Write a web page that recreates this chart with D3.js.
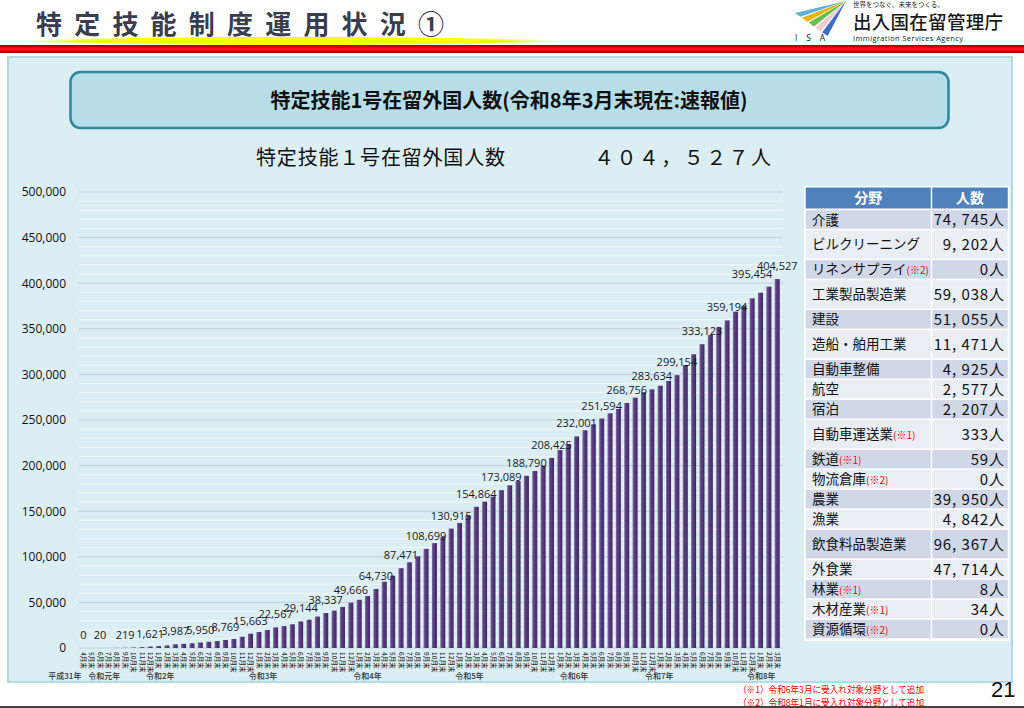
<!DOCTYPE html>
<html><head><meta charset="utf-8">
<script src="https://cdn.jsdelivr.net/npm/d3@7"></script>
<style>body{margin:0;background:#fff;}svg{display:block;}</style>
</head><body>
<svg id="c" width="1024" height="708"></svg>
<script>
// ---------------- DATA ----------------
const pageTitle = "特定技能制度運用状況①";
const boxTitle = "特定技能1号在留外国人数(令和8年3月末現在:速報値)";
const subTitle = "特定技能１号在留外国人数";
const totalText = "４０４，５２７人";

const months = [
  "4月末","5月末","6月末","7月末","8月末","9月末","10月末","11月末","12月末",
  "1月末","2月末","3月末","4月末","5月末","6月末","7月末","8月末","9月末","10月末","11月末","12月末",
  "1月末","2月末","3月末","4月末","5月末","6月末","7月末","8月末","9月末","10月末","11月末","12月末",
  "1月末","2月末","3月末","4月末","5月末","6月末","7月末","8月末","9月末","10月末","11月末","12月末",
  "1月末","2月末","3月末","4月末","5月末","6月末","7月末","8月末","9月末","10月末","11月末","12月末",
  "1月末","2月末","3月末","4月末","5月末","6月末","7月末","8月末","9月末","10月末","11月末","12月末",
  "1月末","2月末","3月末","4月末","5月末","6月末","7月末","8月末","9月末","10月末","11月末","12月末",
  "1月末","2月末","3月末"
];
const values = [
  0, 4, 20, 44, 110, 219, 520, 895, 1621,
  2100, 2800, 3987, 4500, 5200, 5950, 6800, 7600, 8769, 9900, 12300, 15663,
  17500, 19800, 22567, 24000, 26000, 29144, 31000, 34500, 38337, 41000, 45000, 49666,
  52900, 57000, 64730, 72700, 79300, 87471, 94000, 100500, 108699, 115000, 122000, 130915,
  137000, 145300, 154864, 160500, 166000, 173089, 178400, 183100, 188790, 194100, 200000, 208425,
  217000, 223700, 232001, 238700, 245300, 251594, 257300, 262100, 268756, 274500, 280400, 283634,
  287600, 292800, 299154, 310300, 322000, 333123, 343200, 351300, 359194, 368800, 375400, 383400,
  389600, 396200, 404527
];
const labelMonthIdx = [0,2,5,8,11,14,17,20,23,26,29,32,35,38,41,44,47,50,53,56,59,62,65,68,71,74,77,80,83];
const labelValues = [0,20,219,1621,3987,5950,8769,15663,22567,29144,38337,49666,64730,87471,108699,
  130915,154864,173089,188790,208425,232001,251594,268756,283634,299154,333123,359194,395454,404527];
const yearLabels = ["平成31年","令和元年","令和2年","令和3年","令和4年","令和5年","令和6年","令和7年","令和8年"];
const yearLabelAt = [-2.2, 2.5, 9.2, 21.5, 34, 46.2, 58.7, 68.9, 81.1];
const yTicks = [0,50000,100000,150000,200000,250000,300000,350000,400000,450000,500000];

const tableHeader = ["分野","人数"];
const fields = ["介護","ビルクリーニング","リネンサプライ","工業製品製造業","建設","造船・舶用工業",
  "自動車整備","航空","宿泊","自動車運送業","鉄道","物流倉庫","農業","漁業","飲食料品製造業",
  "外食業","林業","木材産業","資源循環"];
const fieldNotes = ["","","(※2)","","","","","","","(※1)","(※1)","(※2)","","","","","(※1)","(※1)","(※2)"];
const fieldCounts = ["74, 745人","9, 202人","0人","59, 038人","51, 055人","11, 471人","4, 925人",
  "2, 577人","2, 207人","333人","59人","0人","39, 950人","4, 842人","96, 367人","47, 714人","8人","34人","0人"];
const footnotes = ["（※1）令和6年3月に受入れ対象分野として追加","（※2）令和8年1月に受入れ対象分野として追加"];
const pageNo = "21";

// ---------------- LAYOUT ----------------
const JP = "'Noto Sans CJK JP','Noto Sans',sans-serif";
const NUM = "'Open Sans','Noto Sans',sans-serif";
const svg = d3.select("#c");
const defs = svg.append("defs");

const yel = defs.append("radialGradient").attr("id","yel");
yel.append("stop").attr("offset","0").attr("stop-color","#ffff00");
yel.append("stop").attr("offset","0.8").attr("stop-color","#ffff10");
yel.append("stop").attr("offset","1").attr("stop-color","#ffff66").attr("stop-opacity",0);

const red = defs.append("linearGradient").attr("id","red").attr("x1",0).attr("y1",0).attr("x2",0).attr("y2",1);
[["0","#8a0000"],["0.25","#e00000"],["0.5","#ff1a1a"],["0.8","#d00000"],["1","#700000"]]
  .forEach(s=>red.append("stop").attr("offset",s[0]).attr("stop-color",s[1]));

const barG = defs.append("linearGradient").attr("id","bar").attr("x1",0).attr("y1",0).attr("x2",1).attr("y2",0);
[["0","#8a70ad"],["0.3","#5e4183"],["0.8","#4a2e6d"],["1","#3a2256"]]
  .forEach(s=>barG.append("stop").attr("offset",s[0]).attr("stop-color",s[1]));

// header
svg.append("ellipse").attr("cx",292).attr("cy",41).attr("rx",268).attr("ry",4.5).attr("fill","url(#yel)");
svg.append("text").attr("x",36).attr("y",34).attr("font-family",JP).attr("font-weight",700)
  .attr("font-size",26).attr("fill","#3a3d4d").attr("textLength",408).attr("lengthAdjust","spacing")
  .text(pageTitle);
svg.append("rect").attr("x",0).attr("y",45).attr("width",1024).attr("height",8).attr("fill","url(#red)");

// logo
const logoCols = ["#5fb0e0","#e8b400","#6cbf4a","#f1cbd3","#3a6fc4"];
const apex = [846,1], b0 = [795,13], b1 = [829,37];
logoCols.forEach((c,i)=>{
  const t0 = i/logoCols.length, t1 = (i+0.8)/logoCols.length;
  const p0 = [b0[0]+(b1[0]-b0[0])*t0, b0[1]+(b1[1]-b0[1])*t0];
  const p1 = [b0[0]+(b1[0]-b0[0])*t1, b0[1]+(b1[1]-b0[1])*t1];
  svg.append("polygon").attr("points",[apex,p0,p1].map(p=>p.join(",")).join(" ")).attr("fill",c);
});
svg.append("text").attr("x",795).attr("y",41).attr("font-family",NUM).attr("font-size",8.5)
  .attr("fill","#222").attr("textLength",30).attr("lengthAdjust","spacing").text("I S A");
svg.append("text").attr("x",853).attr("y",6.5).attr("font-family",JP).attr("font-size",6.5)
  .attr("fill","#222").text("世界をつなぐ。未来をつくる。");
svg.append("text").attr("x",853).attr("y",29).attr("font-family",JP).attr("font-size",18.5)
  .attr("font-weight",500).attr("fill","#1a1a1a").attr("textLength",150).text("出入国在留管理庁");
svg.append("text").attr("x",853).attr("y",40.5).attr("font-family",NUM).attr("font-size",7.5)
  .attr("fill","#222").attr("textLength",110).text("Immigration Services Agency");

// panel
svg.append("rect").attr("x",8).attr("y",57).attr("width",1004).attr("height",625)
  .attr("fill","#dbeef4").attr("stroke","#b3dbe6").attr("stroke-width",2);
svg.append("rect").attr("x",70.5).attr("y",72).attr("width",878).attr("height",56).attr("rx",10)
  .attr("fill","#b7dee8").attr("stroke","#31859c").attr("stroke-width",2.5);
svg.append("text").attr("x",509).attr("y",108).attr("text-anchor","middle").attr("font-family",JP)
  .attr("font-weight",700).attr("font-size",20).attr("fill","#111").text(boxTitle);
svg.append("text").attr("x",256).attr("y",165).attr("font-family",JP).attr("font-size",20)
  .attr("fill","#111").attr("textLength",249).attr("lengthAdjust","spacing").text(subTitle);
svg.append("text").attr("x",594).attr("y",165).attr("font-family",JP).attr("font-size",20)
  .attr("fill","#111").attr("textLength",177).attr("lengthAdjust","spacing").text(totalText);

// chart
const x = d3.scaleBand().domain(d3.range(months.length)).range([79.1,781.4]).paddingInner(0.4).paddingOuter(0.2);
const bw = x.bandwidth();
const xc = i => x(i) + bw/2;
const xIdx = d3.scaleLinear().domain([0, months.length-1]).range([xc(0), xc(months.length-1)]);
const y = d3.scaleLinear().domain([0,500000]).range([648,192]);

const grid = svg.append("g");
d3.range(0, 500001, 10000).forEach(v=>{
  const major = v % 50000 === 0;
  grid.append("line").attr("x1",79).attr("x2",783).attr("y1",y(v)).attr("y2",y(v))
    .attr("stroke", major ? "#c5d0d5" : "#eef6f9").attr("stroke-width", major ? 1 : 1.2);
});

const yAxis = d3.axisLeft(y).tickValues(yTicks).tickFormat(d3.format(",")).tickSize(0).tickPadding(0);
const ya = svg.append("g").attr("transform","translate(66,0)").call(yAxis);
ya.select(".domain").remove();
ya.selectAll("text").attr("font-family",NUM).attr("font-size",12).attr("fill","#111");

svg.append("g").selectAll("rect").data(values).join("rect")
  .attr("x",(d,i)=>x(i)).attr("width",bw)
  .attr("y",d=>y(d)).attr("height",d=>Math.max(0, y(0)-y(d)))
  .attr("fill","url(#bar)");

svg.append("g").selectAll("text").data(labelValues).join("text")
  .attr("x",(d,i)=>xc(labelMonthIdx[i])).attr("y",d=>y(d)-9)
  .attr("text-anchor","middle").attr("font-family",NUM).attr("font-size",11).attr("fill","#1a1a1a")
  .text(d=>d3.format(",")(d));

svg.append("g").selectAll("text").data(months).join("text")
  .attr("transform",(d,i)=>`translate(${xc(i)-2.3},652) rotate(90)`)
  .attr("font-family",JP).attr("font-size",6.5).attr("font-weight",500).attr("fill","#333").text(d=>d);

svg.append("g").selectAll("text").data(yearLabels).join("text")
  .attr("x",(d,i)=>xIdx(yearLabelAt[i])).attr("y",679).attr("text-anchor","middle")
  .attr("font-family",JP).attr("font-size",8).attr("font-weight",500).attr("fill","#333").text(d=>d);

// table
const tallRows = new Set(["ビルクリーニング","工業製品製造業","造船・舶用工業","自動車運送業","飲食料品製造業"]);
const tx0 = 805, tx1 = 931.5, tx2 = 1008.5;
const tbl = svg.append("g");
tbl.append("rect").attr("x",tx0-1).attr("y",186).attr("width",tx2-tx0+2).attr("height",455).attr("fill","#fff");
const hTop = 187.5, hBot = 208.5;
[[tx0,tx1],[tx1,tx2]].forEach((c,j)=>{
  tbl.append("rect").attr("x",c[0]+0.75).attr("y",hTop).attr("width",c[1]-c[0]-1.5).attr("height",hBot-hTop)
    .attr("fill","#4f81bd");
  tbl.append("text").attr("x",(c[0]+c[1])/2).attr("y",(hTop+hBot)/2+5).attr("text-anchor","middle")
    .attr("font-family",JP).attr("font-weight",700).attr("font-size",14).attr("fill","#fff").text(tableHeader[j]);
});
let ry = 209.5;
fields.forEach((f,i)=>{
  const h = tallRows.has(f) ? 29.9 : 20;
  const fill = i % 2 === 0 ? "#d0d8e8" : "#e9edf4";
  tbl.append("rect").attr("x",tx0+0.75).attr("y",ry+0.75).attr("width",tx1-tx0-1.5).attr("height",h-1.5).attr("fill",fill);
  tbl.append("rect").attr("x",tx1+0.75).attr("y",ry+0.75).attr("width",tx2-tx1-1.5).attr("height",h-1.5).attr("fill",fill);
  const t = tbl.append("text").attr("x",812).attr("y",ry+h/2+5).attr("font-family",JP).attr("font-size",13.5).attr("fill","#111");
  t.append("tspan").text(f);
  if (fieldNotes[i]) t.append("tspan").attr("font-size",10).attr("fill","#ff0000").text(fieldNotes[i]);
  tbl.append("text").attr("x",1005).attr("y",ry+h/2+5.5).attr("text-anchor","end").attr("font-family",JP)
    .attr("font-size",15).attr("letter-spacing",0.9).attr("fill","#111").text(fieldCounts[i]);
  ry += h;
});

// footnotes
footnotes.forEach((f,i)=>{
  svg.append("text").attr("x",738).attr("y",693+i*12.5).attr("font-family",JP).attr("font-size",9.5)
    .attr("fill","#ff0000").attr("textLength",186).attr("lengthAdjust","spacingAndGlyphs").text(f);
});
svg.append("text").attr("x",991).attr("y",697).attr("font-family","'Liberation Sans',sans-serif")
  .attr("font-size",22).attr("fill","#111").text(pageNo);
svg.append("rect").attr("x",0).attr("y",706).attr("width",1024).attr("height",2).attr("fill","#444");
</script>
</body></html>
